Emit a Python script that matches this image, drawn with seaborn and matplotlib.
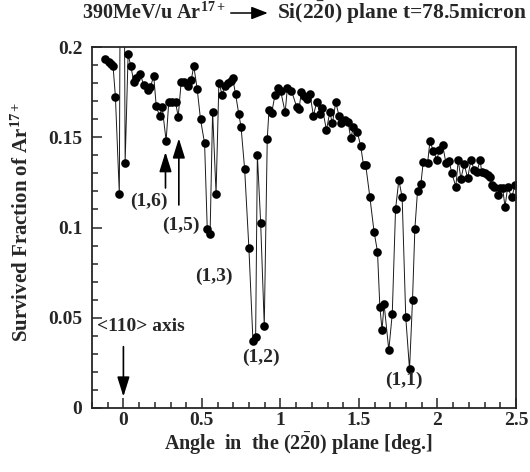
import matplotlib
matplotlib.use("Agg")
import matplotlib.pyplot as plt
import numpy as np
import pandas as pd
import seaborn as sns
from matplotlib.ticker import MultipleLocator, FuncFormatter

# angle scan (deg.) and survived fraction
angle = [
    -0.115, -0.094, -0.077, -0.066, -0.051, -0.026, -0.008, 0.011, 0.030, 0.047,
    0.066, 0.083, 0.108, 0.129, 0.155, 0.172, 0.193, 0.209, 0.230, 0.247,
    0.272, 0.289, 0.311, 0.332, 0.349, 0.368, 0.389, 0.410, 0.432, 0.448,
    0.470, 0.491, 0.517, 0.534, 0.552, 0.568, 0.590, 0.608, 0.629, 0.644,
    0.663, 0.682, 0.695, 0.714, 0.735, 0.749, 0.772, 0.799, 0.825, 0.842,
    0.853, 0.874, 0.897, 0.916, 0.927, 0.944, 0.965, 0.984, 1.001, 1.030,
    1.044, 1.070, 1.103, 1.118, 1.133, 1.150, 1.167, 1.188, 1.210, 1.231,
    1.252, 1.267, 1.293, 1.314, 1.331, 1.352, 1.373, 1.388, 1.409, 1.430,
    1.448, 1.465, 1.490, 1.511, 1.529, 1.543, 1.569, 1.596, 1.618, 1.633,
    1.647, 1.660, 1.690, 1.712, 1.733, 1.754, 1.775, 1.798, 1.822, 1.841,
    1.856, 1.873, 1.894, 1.909, 1.937, 1.952, 1.973, 1.996, 2.011, 2.033,
    2.054, 2.075, 2.090, 2.117, 2.132, 2.149, 2.170, 2.192, 2.213, 2.234,
    2.251, 2.272, 2.281, 2.302, 2.320, 2.336, 2.345, 2.362, 2.383, 2.400,
    2.415, 2.430, 2.447, 2.473, 2.494,
]
fraction = [
    0.1932, 0.1918, 0.1904, 0.1895, 0.1725, 0.1186, 0.5000, 0.1359, 0.1960, 0.1895,
    0.1808, 0.1827, 0.1849, 0.1789, 0.1762, 0.1777, 0.1841, 0.1673, 0.1618, 0.1666,
    0.1481, 0.1697, 0.1694, 0.1694, 0.1614, 0.1808, 0.1808, 0.1784, 0.1817, 0.1895,
    0.1766, 0.1599, 0.1466, 0.0989, 0.0964, 0.1642, 0.1188, 0.1803, 0.1734, 0.1784,
    0.1803, 0.1812, 0.1830, 0.1740, 0.1627, 0.1558, 0.1324, 0.0888, 0.0371, 0.0395,
    0.1402, 0.1027, 0.0456, 0.1490, 0.1651, 0.1633, 0.1734, 0.1771, 0.1758, 0.1638,
    0.1771, 0.1758, 0.1669, 0.1656, 0.1749, 0.1730, 0.1712, 0.1740, 0.1619, 0.1697,
    0.1629, 0.1660, 0.1540, 0.1638, 0.1577, 0.1694, 0.1619, 0.1577, 0.1596, 0.1586,
    0.1494, 0.1558, 0.1527, 0.1451, 0.1346, 0.1346, 0.1171, 0.0977, 0.0866, 0.0561,
    0.0433, 0.0576, 0.0321, 0.0521, 0.1102, 0.1263, 0.1167, 0.0502, 0.0214, 0.0598,
    0.0992, 0.1204, 0.1239, 0.1361, 0.1356, 0.1479, 0.1425, 0.1374, 0.1429, 0.1457,
    0.1356, 0.1368, 0.1304, 0.1226, 0.1374, 0.1269, 0.1352, 0.1273, 0.1374, 0.1319,
    0.1309, 0.1374, 0.1309, 0.1300, 0.1291, 0.1278, 0.1235, 0.1226, 0.1180, 0.1217,
    0.1217, 0.1115, 0.1223, 0.1167, 0.1235,
]

# resonance labels: (text, x, y)
labels = [
    ("(1,6)", 0.161, 0.1143),
    ("(1,5)", 0.365, 0.1010),
    ("(1,3)", 0.576, 0.0727),
    ("(1,2)", 0.874, 0.0279),
    ("(1,1)", 1.788, 0.0155),
]
# arrows: (x, y_tail, y_head)
arrows = [
    (0.268, 0.1219, 0.1418),
    (0.353, 0.1125, 0.1494),
    (0.0, 0.0340, 0.0063),
]

sns.set_style("ticks")
plt.rcParams["font.family"] = ["Liberation Serif", "DejaVu Serif"]
plt.rcParams["font.weight"] = "bold"
plt.rcParams["mathtext.fontset"] = "custom"
plt.rcParams["mathtext.rm"] = "Liberation Serif:bold"
plt.rcParams["mathtext.bf"] = "Liberation Serif:bold"
plt.rcParams["mathtext.it"] = "Liberation Serif:bold:italic"

W, H = 530, 472
fig = plt.figure(figsize=(W / 100, H / 100), dpi=100)
ax = fig.add_axes([92 / W, 1 - 408 / H, 424 / W, 361 / H])

df = pd.DataFrame({"angle": angle, "fraction": fraction})
sns.lineplot(data=df, x="angle", y="fraction", ax=ax, color="#1a1a1a",
             linewidth=0.7, marker="o", markersize=6.2, markeredgewidth=0,
             markerfacecolor="black", estimator=None, sort=False)

ax.set_xlim(-0.2, 2.5)
ax.set_ylim(0, 0.2)
ax.xaxis.set_major_locator(MultipleLocator(0.5))
ax.xaxis.set_minor_locator(MultipleLocator(0.1))
ax.yaxis.set_major_locator(MultipleLocator(0.05))
ax.yaxis.set_minor_locator(MultipleLocator(0.01))
fmt = FuncFormatter(lambda v, p: f"{v:g}")
ax.xaxis.set_major_formatter(fmt)
ax.yaxis.set_major_formatter(fmt)
ax.tick_params(which="both", direction="in", top=False, right=False, width=1.1)
ax.tick_params(which="major", length=7, labelsize=14)
ax.tick_params(which="minor", length=4)
ax.tick_params(axis="x", pad=3)
ax.tick_params(axis="y", pad=7)
for s in ax.spines.values():
    s.set_linewidth(1.3)
    s.set_visible(True)
ax.set_xlabel("")
ax.set_ylabel("")

for txt, x, y in labels:
    ax.text(x, y, txt, ha="center", va="center", fontsize=14)
ax.text(-0.17, 0.045, "<110> axis", ha="left", va="center", fontsize=14)

for x, yt, yh in arrows:
    ax.annotate("", xy=(x, yh), xytext=(x, yt),
                arrowprops=dict(arrowstyle="-|>,head_length=0.8,head_width=0.25",
                                color="black", lw=1.2, mutation_scale=15,
                                shrinkA=0, shrinkB=0))

fig.text(298 / W, 1 - 450 / H, r"Angle  in  the $\mathbf{(2\bar{2}0)}$ plane [deg.]",
         ha="center", va="baseline", fontsize=14.5)
fig.text(22 / W, 1 - 222 / H, r"Survived Fraction of Ar$^{\mathbf{17+}}$",
         ha="center", va="center", rotation=90, fontsize=15)

# title: text, arrow, text laid out left to right
t1 = fig.text(82 / W, 1 - 19 / H, r"390MeV/u Ar$^{\mathbf{17+}}$", ha="left",
              va="baseline", fontsize=14.5)
fig.canvas.draw()
x1 = t1.get_window_extent().x1
ax.annotate("", xy=(x1 + 42, H - 13), xytext=(x1 + 5, H - 13),
            xycoords="figure pixels", textcoords="figure pixels",
            arrowprops=dict(arrowstyle="-|>,head_length=0.9,head_width=0.35",
                            color="black", lw=1.1, mutation_scale=11,
                            shrinkA=0, shrinkB=0))
fig.text((x1 + 51) / W, 1 - 19 / H, r"Si$\mathbf{(2\bar{2}0)}$ plane t=78.5micron",
         ha="left", va="baseline", fontsize=15.5)

fig.savefig("out.png", dpi=100)
